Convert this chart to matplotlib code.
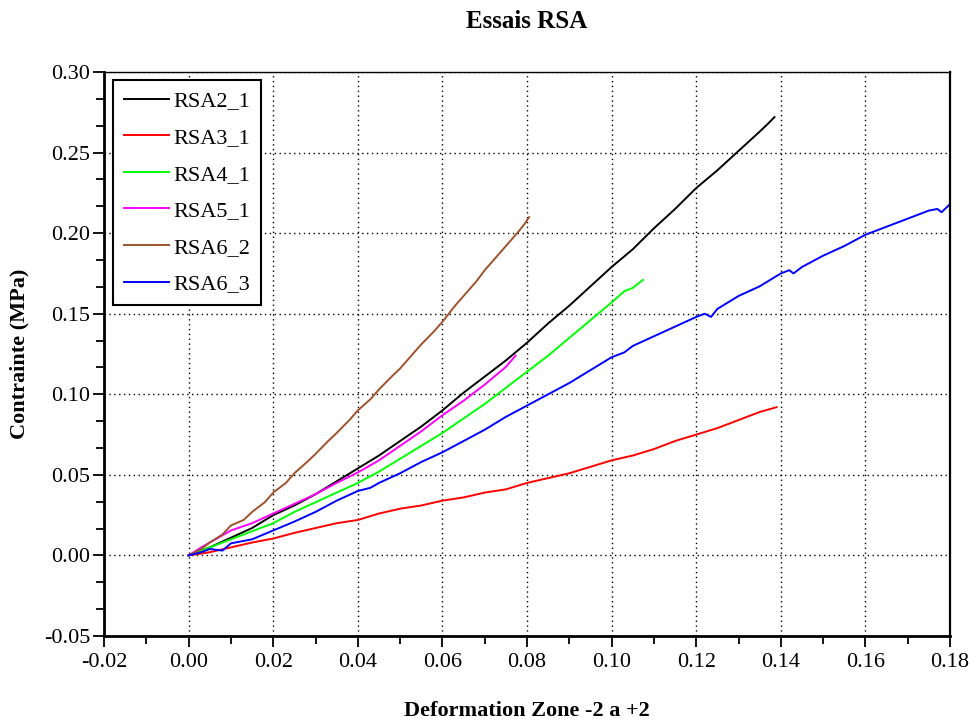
import matplotlib
matplotlib.use('Agg')
import matplotlib.pyplot as plt
from matplotlib.ticker import MultipleLocator, FormatStrFormatter

plt.rcParams['font.family'] = ['Liberation Serif', 'DejaVu Serif']

# courbes (deformation, contrainte)
rsa2_1_x = [0.000, 0.005, 0.010, 0.015, 0.020, 0.025, 0.030, 0.035, 0.040, 0.045,
            0.050, 0.055, 0.060, 0.065, 0.070, 0.075, 0.080, 0.085, 0.090, 0.095,
            0.100, 0.105, 0.110, 0.115, 0.120, 0.125, 0.130, 0.135, 0.137, 0.1385]
rsa2_1_y = [0.000, 0.005, 0.011, 0.017, 0.025, 0.031, 0.038, 0.046, 0.054, 0.062,
            0.071, 0.080, 0.090, 0.101, 0.111, 0.121, 0.132, 0.144, 0.155, 0.167,
            0.179, 0.190, 0.203, 0.215, 0.228, 0.239, 0.251, 0.263, 0.268, 0.272]

rsa3_1_x = [0.000, 0.005, 0.010, 0.015, 0.020, 0.025, 0.030, 0.035, 0.040, 0.045,
            0.050, 0.055, 0.060, 0.065, 0.070, 0.075, 0.080, 0.085, 0.090, 0.095,
            0.100, 0.105, 0.110, 0.115, 0.120, 0.125, 0.130, 0.135, 0.139]
rsa3_1_y = [0.000, 0.002, 0.005, 0.008, 0.0105, 0.014, 0.017, 0.020, 0.022, 0.026,
            0.029, 0.031, 0.034, 0.036, 0.039, 0.041, 0.045, 0.048, 0.051, 0.055,
            0.059, 0.062, 0.066, 0.071, 0.075, 0.079, 0.084, 0.089, 0.092]

rsa4_1_x = [0.000, 0.005, 0.010, 0.015, 0.020, 0.025, 0.030, 0.035, 0.040, 0.045,
            0.050, 0.055, 0.060, 0.065, 0.070, 0.075, 0.080, 0.085, 0.090, 0.095,
            0.100, 0.103, 0.105, 0.1074]
rsa4_1_y = [0.000, 0.005, 0.010, 0.015, 0.020, 0.027, 0.033, 0.039, 0.045, 0.052,
            0.060, 0.068, 0.076, 0.085, 0.094, 0.104, 0.114, 0.124, 0.135, 0.146,
            0.157, 0.164, 0.166, 0.171]

rsa5_1_x = [0.000, 0.003, 0.005, 0.010, 0.015, 0.020, 0.025, 0.030, 0.035, 0.040,
            0.045, 0.050, 0.055, 0.060, 0.065, 0.070, 0.075, 0.0773]
rsa5_1_y = [0.000, 0.005, 0.008, 0.0155, 0.020, 0.026, 0.032, 0.038, 0.045, 0.0515,
            0.059, 0.068, 0.077, 0.087, 0.096, 0.106, 0.117, 0.124]

rsa6_2_x = [0.000, 0.003, 0.005, 0.008, 0.010, 0.013, 0.015, 0.018, 0.020, 0.023,
            0.025, 0.028, 0.030, 0.033, 0.035, 0.038, 0.040, 0.043, 0.045, 0.048,
            0.050, 0.053, 0.055, 0.058, 0.060, 0.063, 0.065, 0.068, 0.070, 0.073,
            0.075, 0.078, 0.0795, 0.0805]
rsa6_2_y = [0.000, 0.004, 0.008, 0.013, 0.0186, 0.022, 0.027, 0.033, 0.039, 0.045,
            0.051, 0.058, 0.063, 0.071, 0.076, 0.084, 0.090, 0.097, 0.103, 0.111,
            0.116, 0.125, 0.131, 0.139, 0.145, 0.155, 0.161, 0.170, 0.177, 0.186,
            0.192, 0.201, 0.206, 0.210]

rsa6_3_x = [0.000, 0.003, 0.005, 0.008, 0.010, 0.015, 0.020, 0.025, 0.030, 0.035,
            0.040, 0.043, 0.045, 0.050, 0.055, 0.060, 0.065, 0.070, 0.075, 0.080,
            0.085, 0.090, 0.095, 0.100, 0.103, 0.105, 0.110, 0.115, 0.120, 0.122,
            0.1235, 0.125, 0.130, 0.135, 0.140, 0.142, 0.143, 0.145, 0.150, 0.155,
            0.160, 0.165, 0.170, 0.175, 0.177, 0.178, 0.180]
rsa6_3_y = [0.000, 0.002, 0.004, 0.003, 0.0075, 0.010, 0.0155, 0.021, 0.027, 0.034,
            0.040, 0.042, 0.045, 0.051, 0.058, 0.064, 0.071, 0.078, 0.086, 0.093,
            0.100, 0.107, 0.115, 0.123, 0.126, 0.130, 0.136, 0.142, 0.148, 0.150,
            0.148, 0.153, 0.161, 0.167, 0.175, 0.177, 0.175, 0.179, 0.186, 0.192,
            0.199, 0.204, 0.209, 0.214, 0.215, 0.213, 0.218]

series = [
    ('RSA2_1', rsa2_1_x, rsa2_1_y, '#000000'),
    ('RSA3_1', rsa3_1_x, rsa3_1_y, '#ff0000'),
    ('RSA4_1', rsa4_1_x, rsa4_1_y, '#00ff00'),
    ('RSA5_1', rsa5_1_x, rsa5_1_y, '#ff00ff'),
    ('RSA6_2', rsa6_2_x, rsa6_2_y, '#a0522d'),
    ('RSA6_3', rsa6_3_x, rsa6_3_y, '#0000ff'),
]

fig = plt.figure(figsize=(9.74, 7.22), dpi=100)
ax = fig.add_axes([0.1068, 0.1191, 0.8686, 0.7812])

for name, xs, ys, col in series:
    ax.plot(xs, ys, color=col, lw=1.4, label=name)

ax.set_xlim(-0.02, 0.18)
ax.set_ylim(-0.05, 0.30)
ax.xaxis.set_major_locator(MultipleLocator(0.02))
ax.xaxis.set_minor_locator(MultipleLocator(0.01))
ax.yaxis.set_major_locator(MultipleLocator(0.05))
ax.yaxis.set_minor_locator(MultipleLocator(0.05 / 3))
ax.xaxis.set_major_formatter(FormatStrFormatter('%.2f'))
ax.yaxis.set_major_formatter(FormatStrFormatter('%.2f'))

ax.tick_params(which='major', direction='out', length=8, width=1.3, labelsize=16, pad=4)
ax.tick_params(which='minor', direction='out', length=5.5, width=1.3)
ax.tick_params(axis='y', which='major', pad=2)

ax.grid(True, which='major', color='black', linestyle=(0, (1, 2.5)), lw=1.0)

for side, lw in [('left', 2.0), ('bottom', 2.0), ('right', 1.6), ('top', 1.0)]:
    ax.spines[side].set_linewidth(lw)

ax.set_title('Essais RSA', fontsize=18, fontweight='bold', pad=32)
ax.set_xlabel('Deformation Zone -2 a +2', fontsize=16, fontweight='bold', labelpad=21)
ax.set_ylabel('Contrainte (MPa)', fontsize=16, fontweight='bold', labelpad=10)

leg = ax.legend(loc='upper left', bbox_to_anchor=(0.0106, 0.986), fontsize=16,
                fancybox=False, framealpha=1, edgecolor='black',
                handlelength=2.0, handletextpad=0.2, labelspacing=0.72,
                borderpad=0.5, borderaxespad=0)
leg.get_frame().set_linewidth(1.5)

fig.savefig('out.png', dpi=100)
